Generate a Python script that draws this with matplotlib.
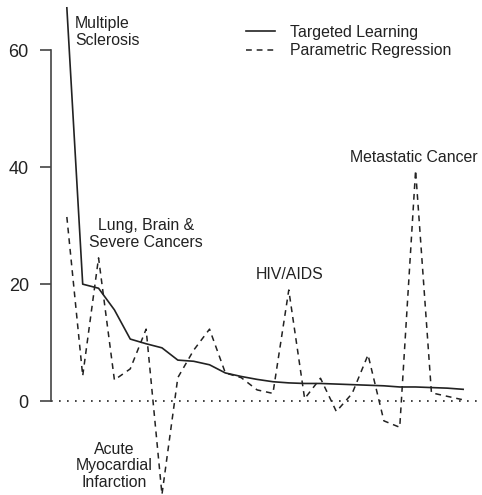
import matplotlib.pyplot as plt
import numpy as np

plt.rcParams['font.family'] = ['Liberation Sans', 'DejaVu Sans']

# 26 conditions, ordered by targeted learning estimate
idx = np.arange(1, 27)
targeted = [67.3, 20.0, 19.3, 15.6, 10.6, 9.8, 9.1, 7.0, 6.8, 6.2, 4.8, 4.2, 3.7,
            3.3, 3.1, 3.0, 3.0, 2.9, 2.8, 2.7, 2.6, 2.4, 2.4, 2.3, 2.2, 2.0]
parametric = [31.5, 4.3, 24.5, 3.6, 5.5, 12.3, -16.0, 4.0, 8.7, 12.3, 4.8, 4.0, 1.9,
              1.3, 19.0, 0.4, 3.9, -1.8, 1.3, 7.9, -3.4, -4.5, 39.5, 1.4, 0.8, 0.2]

labels = ["Multiple\nSclerosis", "Lung, Brain &\nSevere Cancers", "HIV/AIDS",
          "Metastatic Cancer", "Acute\nMyocardial\nInfarction"]

fig = plt.figure(figsize=(4.82, 4.95), dpi=100)
ax = fig.add_axes([51/482, 0, 428/482, 1])

col = '#222222'
ax.plot(idx, targeted, color=col, lw=1.2, label='Targeted Learning')
ax.plot(idx, parametric, color=col, lw=1.1, dashes=(3.8, 3.2), label='Parametric Regression')
ax.axhline(0, color=col, lw=1.2, linestyle=(0, (1, 3.8)))

ax.set_xlim(0, 27)
ax.set_ylim(-16.09, 68.64)

for s in ['top', 'right', 'bottom']:
    ax.spines[s].set_visible(False)
ax.spines['left'].set_bounds(0, 60)
ax.spines['left'].set_color('#444444')
ax.spines['left'].set_linewidth(1.2)
ax.set_xticks([])
ax.set_yticks([0, 20, 40, 60])
ax.tick_params(axis='y', direction='out', length=8, width=1.2, color='#444444',
               pad=8, labelsize=13, labelcolor=col)

fs = 11.4
ax.text(1.5, 65.9, labels[0], ha='left', va='top', fontsize=fs, color=col, linespacing=1.15)
ax.text(5.99, 28.6, labels[1], ha='center', va='center', fontsize=fs, color=col, linespacing=1.15)
ax.text(15.08, 21.6, labels[2], ha='center', va='center', fontsize=fs, color=col)
ax.text(22.9, 41.6, labels[3], ha='center', va='center', fontsize=fs, color=col)
ax.text(3.97, -11.1, labels[4], ha='center', va='center', fontsize=fs, color=col, linespacing=1.15)

ax.legend(loc='upper left', bbox_to_anchor=(246/482, 1 - 25/495), bbox_transform=fig.transFigure,
          frameon=False, fontsize=fs, handlelength=1.85, handletextpad=0.9,
          labelspacing=0.2, borderpad=0, borderaxespad=0, labelcolor=col)

fig.savefig('out.png', dpi=100)
